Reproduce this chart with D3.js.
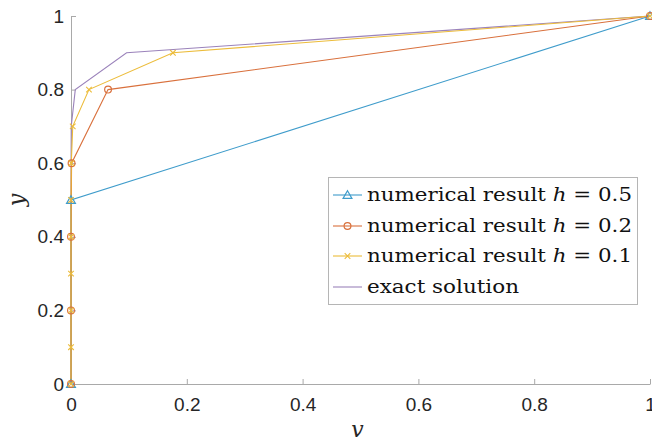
<!DOCTYPE html>
<html>
<head>
<meta charset="utf-8">
<script src="https://cdn.jsdelivr.net/npm/d3@7"></script>
<style>
  html, body { margin: 0; padding: 0; background: #fff; }
  svg { display: block; }
</style>
</head>
<body>
<svg id="chart" width="652" height="441"></svg>
<script>
// Numerical solutions for step sizes h = 0.5, 0.2, 0.1 and the exact solution, as (v, y) pairs
const h05V = [0, 0, 1];
const h05Y = [0, 0.5, 1];

const h02V = [0, 0, 0, 0.001, 0.064, 1];
const h02Y = [0, 0.2, 0.4, 0.6, 0.8, 1];

const h01V = [0, 0, 0, 0, 0, 0, 0.0005, 0.003, 0.031, 0.176, 1];
const h01Y = [0, 0.1, 0.2, 0.3, 0.4, 0.5, 0.6, 0.7, 0.8, 0.9, 1];

const exactV = [0, 0, 0, 0, 0, 0, 0.0001, 0.0004, 0.0074, 0.096, 1];
const exactY = [0, 0.1, 0.2, 0.3, 0.4, 0.5, 0.6, 0.7, 0.8, 0.9, 1];

const xTicks = [0, 0.2, 0.4, 0.6, 0.8, 1];
const yTicks = [0, 0.2, 0.4, 0.6, 0.8, 1];

const legendLabels = ["numerical result", "numerical result", "numerical result", "exact solution"];
const legendH = ["0.5", "0.2", "0.1", null];

const svg = d3.select("#chart");
const margin = { left: 71, top: 16 };

const x = d3.scaleLinear().domain([0, 1]).range([margin.left, 650]);
const y = d3.scaleLinear().domain([0, 1]).range([384, margin.top]);

const axisColor = "#a9a9a9";
const tickFont = "'Liberation Sans', Arial, Helvetica, sans-serif";
const serif = "'DejaVu Serif', 'Liberation Serif', serif";

// Axes (inward ticks, no box)
const xAxis = svg.append("g")
  .attr("transform", `translate(0,${y(0)})`)
  .call(d3.axisBottom(x).tickValues(xTicks).tickFormat(d3.format("~g")).tickSizeInner(-5).tickSizeOuter(0).tickPadding(14));
const yAxis = svg.append("g")
  .attr("transform", `translate(${x(0)},0)`)
  .call(d3.axisLeft(y).tickValues(yTicks).tickFormat(d3.format("~g")).tickSizeInner(-5).tickSizeOuter(0).tickPadding(7));

[xAxis, yAxis].forEach(g => {
  g.select(".domain").attr("stroke", axisColor).attr("stroke-width", 1);
  g.selectAll(".tick line").attr("stroke", axisColor);
  g.selectAll(".tick text").attr("fill", "#262626").style("font-family", tickFont).style("font-size", "19px");
});
xAxis.selectAll(".tick line").filter(d => d === 0).remove();
yAxis.selectAll(".tick line").filter(d => d === 0).remove();

// Axis labels
svg.append("text")
  .attr("x", (x(0) + x(1)) / 2 - 3).attr("y", 437)
  .attr("text-anchor", "middle")
  .style("font-family", serif).style("font-style", "italic").style("font-size", "22px")
  .attr("fill", "#262626").text("v");
svg.append("text")
  .attr("transform", `translate(24,${(y(0) + y(1)) / 2}) rotate(-90)`)
  .attr("text-anchor", "middle")
  .style("font-family", serif).style("font-style", "italic").style("font-size", "22px")
  .attr("fill", "#262626").text("y");

const colors = ["#3f9ccb", "#d9703c", "#ecbc3a", "#9b83bb"];

const series = [
  { v: exactV, y: exactY, color: colors[3], marker: null },
  { v: h05V, y: h05Y, color: colors[0], marker: "triangle" },
  { v: h02V, y: h02Y, color: colors[1], marker: "circle" },
  { v: h01V, y: h01Y, color: colors[2], marker: "cross" }
];

const line = d3.line().x(d => x(d[0])).y(d => y(d[1]));

function drawMarker(g, type, cx, cy, color) {
  if (type === "triangle") {
    g.append("path")
      .attr("d", d3.symbol().type(d3.symbolTriangle).size(34)())
      .attr("transform", `translate(${cx},${cy + 0.8})`)
      .attr("fill", "none").attr("stroke", color).attr("stroke-width", 1.2);
  } else if (type === "circle") {
    g.append("circle").attr("cx", cx).attr("cy", cy).attr("r", 3.4)
      .attr("fill", "none").attr("stroke", color).attr("stroke-width", 1.2);
  } else if (type === "cross") {
    const s = 2.8;
    g.append("path")
      .attr("d", `M${cx - s},${cy - s}L${cx + s},${cy + s}M${cx - s},${cy + s}L${cx + s},${cy - s}`)
      .attr("stroke", color).attr("stroke-width", 1.1).attr("fill", "none");
  }
}

const plot = svg.append("g");
series.forEach(s => {
  const pts = s.v.map((v, i) => [v, s.y[i]]);
  plot.append("path").datum(pts).attr("d", line)
    .attr("fill", "none").attr("stroke", s.color).attr("stroke-width", 1.1);
});
series.forEach(s => {
  if (!s.marker) return;
  const mg = plot.append("g");
  s.v.forEach((v, i) => drawMarker(mg, s.marker, x(v), y(s.y[i]), s.color));
});

// Legend
const lg = svg.append("g");
lg.append("rect").attr("x", 328.5).attr("y", 177.5).attr("width", 309).attr("height", 127)
  .attr("fill", "#fff").attr("stroke", "#b5b5b5").attr("stroke-width", 1);

const legendMarkers = ["triangle", "circle", "cross", null];
const legendColors = [colors[0], colors[1], colors[2], colors[3]];
const rowY = [195, 226, 256, 287];
legendLabels.forEach((lab, i) => {
  const cy = rowY[i];
  lg.append("line").attr("x1", 333).attr("x2", 362).attr("y1", cy).attr("y2", cy)
    .attr("stroke", legendColors[i]).attr("stroke-width", 1.1);
  drawMarker(lg, legendMarkers[i], 347.5, cy, legendColors[i]);
  const t = lg.append("text").attr("x", 367).attr("y", cy + 6)
    .style("font-family", serif).style("font-size", "18px").attr("fill", "#111");
  t.append("tspan").text(lab);
  if (legendH[i] !== null) {
    t.append("tspan").text(" ");
    t.append("tspan").style("font-style", "italic").text("h");
    t.append("tspan").text(" = " + legendH[i]);
    t.attr("textLength", 265).attr("lengthAdjust", "spacingAndGlyphs");
  } else {
    t.attr("textLength", 152).attr("lengthAdjust", "spacingAndGlyphs");
  }
});
</script>
</body>
</html>
